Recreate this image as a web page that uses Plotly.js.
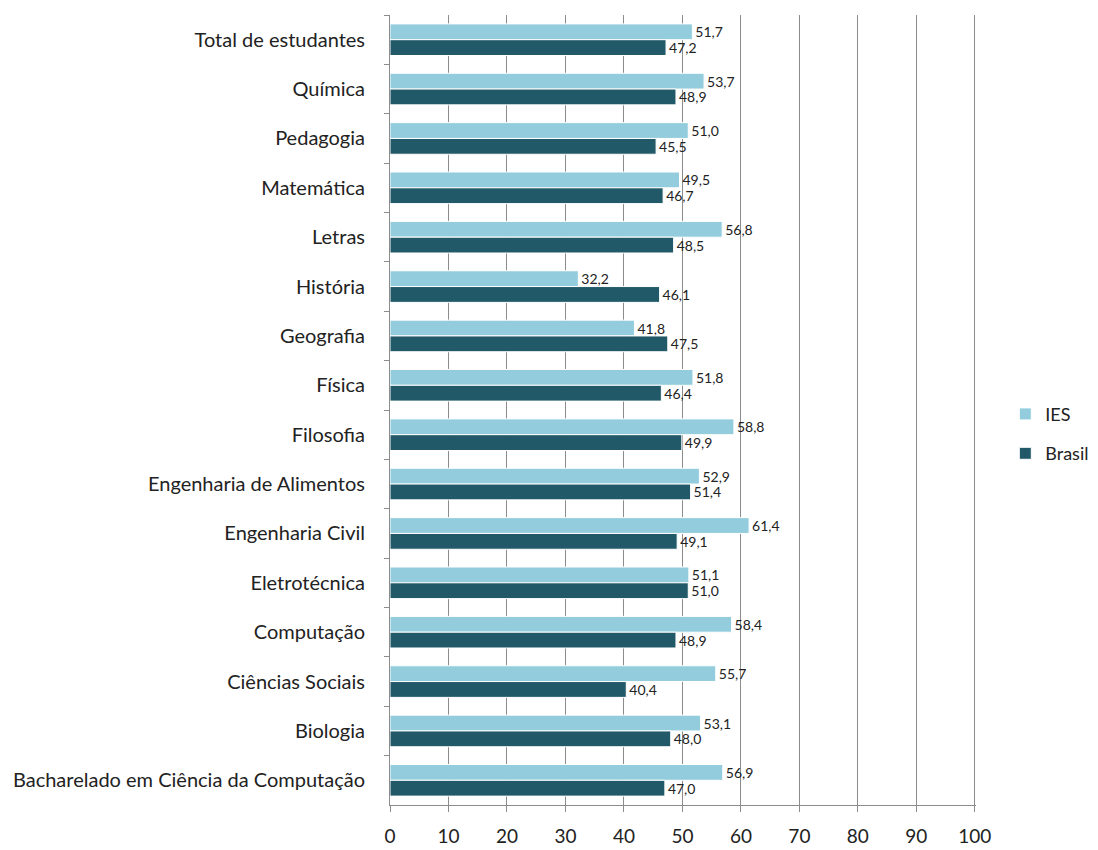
<!DOCTYPE html>
<html>
<head>
<meta charset="utf-8">
<script src="https://cdn.plot.ly/plotly-3.0.1.min.js"></script>
<style>body{margin:0;background:#fff;}#chart{width:1098px;height:850px;}</style>
</head>
<body>
<div id="chart"></div>
<script>
const categories = ["Total de estudantes","Química","Pedagogia","Matemática","Letras","História","Geografia","Física","Filosofia","Engenharia de Alimentos","Engenharia Civil","Eletrotécnica","Computação","Ciências Sociais","Biologia","Bacharelado em Ciência da Computação"];
const iesValues = [51.7,53.7,51.0,49.5,56.8,32.2,41.8,51.8,58.8,52.9,61.4,51.1,58.4,55.7,53.1,56.9];
const brasilValues = [47.2,48.9,45.5,46.7,48.5,46.1,47.5,46.4,49.9,51.4,49.1,51.0,48.9,40.4,48.0,47.0];
const xTicks = [0,10,20,30,40,50,60,70,80,90,100];

const fontFam = "Lato, 'Open Sans', sans-serif";
const common = {
  type: 'bar', orientation: 'h', y: categories,
  texttemplate: '%{x:.1f}', textposition: 'outside', cliponaxis: false, constraintext: 'none',
  textfont: {family: fontFam, size: 14, color: '#222'},
  hoverinfo: 'x+y'
};
const traces = [
  Object.assign({}, common, {name: 'IES', legendgroup: 'a', x: iesValues, marker: {color: '#93CDDD', line: {color: '#fff', width: 1}}}),
  Object.assign({}, common, {name: 'Brasil', legendgroup: 'b', x: brasilValues, marker: {color: '#215968', line: {color: '#fff', width: 1}}})
];
const layout = {
  width: 1098, height: 850,
  margin: {l: 390, r: 122, t: 15, b: 45, autoexpand: false},
  paper_bgcolor: '#fff', plot_bgcolor: '#fff',
  separators: ',.',
  barmode: 'group', bargap: 0.36, bargroupgap: 0,
  font: {family: fontFam, size: 20, color: '#222'},
  showlegend: true,
  legend: {x: 1.05, y: 0.47, xanchor: 'left', yanchor: 'middle', font: {size: 18, family: fontFam},
           tracegroupgap: 13, traceorder: 'grouped', itemwidth: 30},
  xaxis: {range: [0, 100.2], tickvals: xTicks, showgrid: true, gridcolor: '#8c8c8c', gridwidth: 1,
          showline: true, linecolor: '#8c8c8c', ticks: 'outside', ticklen: 6, tickcolor: '#8c8c8c',
          zeroline: false, ticklabelstandoff: 8, tickfont: {size: 19}, fixedrange: true, automargin: false},
  yaxis: {autorange: 'reversed', type: 'category', showline: true, linecolor: '#8c8c8c', ticks: 'outside',
          tickson: 'boundaries', ticklen: 5, tickcolor: '#8c8c8c', showgrid: false,
          ticklabelstandoff: 20, tickfont: {size: 20}, fixedrange: true, automargin: false}
};
Plotly.newPlot('chart', traces, layout, {displayModeBar: false, staticPlot: true});
</script>
</body>
</html>
